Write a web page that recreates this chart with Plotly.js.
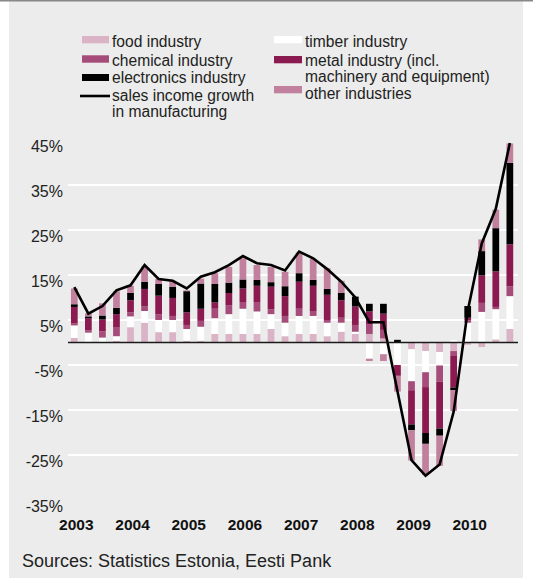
<!DOCTYPE html>
<html>
<head>
<meta charset="utf-8">
<script src="https://cdn.plot.ly/plotly-3.0.1.min.js"></script>
<style>html,body{margin:0;padding:0;background:#fff;}#chart{width:533px;height:578px;}</style>
</head>
<body>
<div id="chart"></div>
<script>
// Quarters 2003 Q1 - 2010 Q4
var quarters = ['2003Q1','2003Q2','2003Q3','2003Q4','2004Q1','2004Q2','2004Q3','2004Q4',
                '2005Q1','2005Q2','2005Q3','2005Q4','2006Q1','2006Q2','2006Q3','2006Q4',
                '2007Q1','2007Q2','2007Q3','2007Q4','2008Q1','2008Q2','2008Q3','2008Q4',
                '2009Q1','2009Q2','2009Q3','2009Q4','2010Q1','2010Q2','2010Q3','2010Q4'];
var yearTickVals = ['2003Q1','2004Q1','2005Q1','2006Q1','2007Q1','2008Q1','2009Q1','2010Q1'];
var yearTickText = ['2003','2004','2005','2006','2007','2008','2009','2010'];
var yTickVals = [-35,-25,-15,-5,5,15,25,35,45];
var yTickText = ['-35%','-25%','-15%','-5%','5%','15%','25%','35%','45%'];

// contributions (percentage points)
var food       = [1.0,0,0,0.4,3.4,4.4,2.3,2.3, 0.4,0.4,1.9,1.9,1.9,1.9,3.0,1.4, 1.9,1.9,1.4,2.4,1.9,1.9,0.9,0, -1.5,-1.9,-2.1,-1.9,-0.5,-1.0,0.7,3.0];
var timber     = [2.8,2.2,1.1,1.0,2.4,2.6,2.7,2.7, 2.6,3.1,3.5,4.4,5.6,5.0,3.3,3.0, 4.0,4.0,3.0,2.0,0.5,-3.6,-2.6,-5.0, -7.1,-4.7,-3.0,0.5,4.4,6.8,6.7,7.3];
var chemical   = [0.5,0.5,1.4,1.9,0.9,1.0,1.3,0.9, 0.9,1.3,2.1,2.0,1.5,2.1,1.1,1.5, 1.6,1.1,0.6,1.1,1.5,2.2,1.9,0, -2.0,-3.3,-3.6,-1.1,0.5,2.0,0.5,2.2];
var metal      = [3.6,2.7,2.6,3.0,2.7,3.9,4.1,4.0, 2.8,2.7,1.4,2.7,3.0,3.6,5.0,4.4, 6.0,5.6,5.6,3.9,4.1,2.8,3.6,-2.4, -7.6,-10.2,-10.4,-7.0,0.6,6.1,7.9,9.3];
var electronics= [0.6,0.4,0.9,1.4,1.6,1.6,2.6,2.5, 4.7,5.6,4.1,2.3,2.0,1.3,1.0,2.2, 1.9,1.3,1.3,1.6,2.2,1.7,2.2,0.6, -1.3,-2.4,-1.6,-0.6,2.6,5.4,9.6,18.1];
var other      = [3.5,0.7,2.7,3.7,1.6,3.4,1.1,1.3, 0.2,1.1,2.4,3.5,4.7,3.3,3.4,3.2, 4.6,4.7,4.6,2.7,0,-0.5,-1.5,-3.5, -6.7,-6.9,-6.7,-4.6,0,2.6,4.1,4.3];
var sales      = [12.3,6.4,8.1,11.6,12.7,17.2,14.1,13.7, 12.0,14.6,15.6,17.2,19.2,17.6,17.2,16.0, 20.2,18.7,16.3,13.5,10.0,4.5,4.5,-10.8, -26.1,-29.6,-27.1,-15.4,7.0,22.0,29.7,44.3];

var seriesNames = ['food industry','timber industry','chemical industry','metal industry (incl. machinery and equipment)','electronics industry','other industries'];
var seriesData = [food, timber, chemical, metal, electronics, other];
var seriesColors = ['#dbb3c7','#ffffff','#a64c7a','#8b1a50','#000000','#c2809f'];

var traces = seriesData.map(function(d,i){
  return {type:'bar', x:quarters, y:d, name:seriesNames[i], width:0.48,
          marker:{color:seriesColors[i], line:{width:0}}, hoverinfo:'skip'};
});
traces.push({type:'scatter', mode:'lines', x:quarters, y:sales, name:'sales income growth in manufacturing',
             line:{color:'#000', width:2.6}, hoverinfo:'skip'});

// pixel -> paper helpers (plot area: x 68..518, y 139..501)
var L=68, R=15, T=139, B=77, W=533, H=578;
var PW=W-L-R, PH=H-T-B;
function px(x){return (x-L)/PW;}
function py(y){return (H-B-y)/PH;}

var FAM = 'Liberation Sans, Arial, sans-serif';
var txtFont = {family:FAM, size:15.6, color:'#222'};
var shapes = [
  {type:'rect', xref:'paper', yref:'paper', x0:px(-2), x1:px(9), y0:py(580), y1:py(-2), fillcolor:'#ffffff', line:{width:0}, layer:'below'},
  {type:'rect', xref:'paper', yref:'paper', x0:px(523), x1:px(535), y0:py(580), y1:py(-2), fillcolor:'#ffffff', line:{width:0}, layer:'below'},
  {type:'line', xref:'paper', yref:'paper', x0:px(0), x1:px(533), y0:py(0.7), y1:py(0.7), line:{color:'#888', width:1.5}},
  {type:'line', xref:'paper', yref:'y', x0:0, x1:1, y0:0, y1:0, line:{color:'#1a1a1a', width:1.5}, layer:'above'},
  // legend swatches
  {type:'rect', xref:'paper', yref:'paper', x0:px(82), x1:px(109), y0:py(43.3), y1:py(36), fillcolor:seriesColors[0], line:{width:0}},
  {type:'rect', xref:'paper', yref:'paper', x0:px(82), x1:px(109), y0:py(62.7), y1:py(55.3), fillcolor:seriesColors[2], line:{width:0}},
  {type:'rect', xref:'paper', yref:'paper', x0:px(82), x1:px(109), y0:py(81), y1:py(74), fillcolor:seriesColors[4], line:{width:0}},
  {type:'line', xref:'paper', yref:'paper', x0:px(80), x1:px(110), y0:py(96), y1:py(96), line:{color:'#000', width:2.6}},
  {type:'rect', xref:'paper', yref:'paper', x0:px(274), x1:px(302), y0:py(43.3), y1:py(36), fillcolor:seriesColors[1], line:{width:0}},
  {type:'rect', xref:'paper', yref:'paper', x0:px(274), x1:px(302), y0:py(63.3), y1:py(56), fillcolor:seriesColors[3], line:{width:0}},
  {type:'rect', xref:'paper', yref:'paper', x0:px(274), x1:px(302), y0:py(93.3), y1:py(86), fillcolor:seriesColors[5], line:{width:0}}
];

function ann(text, x, yc, font){
  return {text:text, xref:'paper', yref:'paper', x:px(x), y:py(yc), xanchor:'left', yanchor:'middle',
          showarrow:false, font:font||txtFont, borderpad:0, borderwidth:0};
}
var annotations = [
  ann('food industry', 112, 41.4),
  ann('chemical industry', 112, 60.6),
  ann('electronics industry', 112, 77.4),
  ann('sales income growth', 112, 95.4),
  ann('in manufacturing', 112, 111.6),
  ann('timber industry', 305, 41.4),
  ann('metal industry (incl.', 305, 60.6),
  ann('machinery and equipment)', 305, 76.4),
  ann('other industries', 305, 93.8),
  ann('Sources: Statistics Estonia, Eesti Pank', 22, 561, {family:FAM, size:18, color:'#222'})
];

var layout = {
  width:W, height:H,
  margin:{l:L, r:R, t:T, b:B, pad:0},
  paper_bgcolor:'#ebeceb',
  plot_bgcolor:'#ebeceb',
  barmode:'relative',
  showlegend:false,
  font:txtFont,
  xaxis:{type:'category', categoryorder:'array', categoryarray:quarters,
         range:[-0.45, 31.58], tickmode:'array', tickvals:yearTickVals, ticktext:yearTickText,
         showgrid:false, zeroline:false, showline:false, ticks:'',
         tickfont:{family:FAM, size:15.5, color:'#111', weight:'bold'},
         ticklabelshift:2, ticklabelstandoff:12},
  yaxis:{range:[-35.2, 45.2], tickmode:'array', tickvals:yTickVals, ticktext:yTickText,
         showgrid:true, gridcolor:'#ffffff', gridwidth:1.5, zeroline:false, showline:false, ticks:'',
         tickfont:{family:FAM, size:16, color:'#222'},
         ticklabelshift:6, ticklabelstandoff:4},
  shapes:shapes,
  annotations:annotations
};

Plotly.newPlot('chart', traces, layout, {staticPlot:true, displayModeBar:false});
</script>
</body>
</html>
